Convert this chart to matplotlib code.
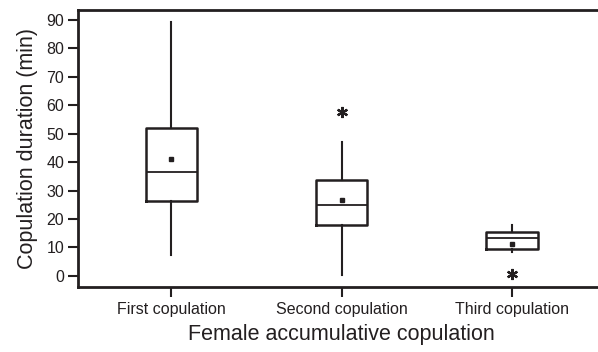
import matplotlib
matplotlib.use("Agg")
import matplotlib.pyplot as plt

plt.rcParams['font.family'] = ['Liberation Sans', 'DejaVu Sans']

categories = ["First copulation", "Second copulation", "Third copulation"]
q1 = [26.3, 17.9, 9.4]
median = [36.6, 25.0, 13.4]
q3 = [51.9, 33.8, 15.4]
mean = [41.0, 26.6, 11.2]
whislo = [7.4, 0.3, 8.3]
whishi = [89.2, 47.2, 17.8]
outliers = [[], [57.6], [0.8]]
yticks = [0, 10, 20, 30, 40, 50, 60, 70, 80, 90]

ink = "#231f20"

stats = []
for i, c in enumerate(categories):
    stats.append(dict(label=c, q1=q1[i], med=median[i], q3=q3[i], mean=mean[i],
                      whislo=whislo[i], whishi=whishi[i], fliers=outliers[i]))

fig = plt.figure(figsize=(5.98, 3.52), dpi=100)
ax = fig.add_axes([78/598, 1-287/352, 1-78/598+0.01, (287-10)/352])

ax.bxp(stats, positions=[1, 2, 3], widths=0.30, showmeans=True, showcaps=False,
       boxprops=dict(color=ink, linewidth=1.8),
       medianprops=dict(color=ink, linewidth=1.3),
       whiskerprops=dict(color=ink, linewidth=1.5),
       meanprops=dict(marker='s', markersize=3.5, markerfacecolor=ink, markeredgecolor=ink),
       flierprops=dict(marker=(6, 2, 0), markersize=8, markeredgewidth=1.6,
                       markeredgecolor=ink, markerfacecolor=ink, linestyle='none'))

ax.set_xlim(0.453, 3.54)
ax.set_ylim(-3.9, 93.5)
ax.set_yticks(yticks)
ax.set_xticks([1, 2, 3])
ax.set_xticklabels(categories, fontsize=11.5)
ax.tick_params(axis='y', labelsize=11.5, length=7, width=1.5, color=ink, labelcolor=ink, pad=3)
ax.tick_params(axis='x', length=7, width=1.5, color=ink, labelcolor=ink, pad=4)
for s in ['left', 'top', 'bottom']:
    ax.spines[s].set_linewidth(2.0)
    ax.spines[s].set_color(ink)
ax.spines['right'].set_visible(False)

ax.set_ylabel("Copulation duration (min)", fontsize=15.5, color=ink, labelpad=6)
ax.set_xlabel("Female accumulative copulation", fontsize=15.5, color=ink, labelpad=5)

fig.savefig("out.png", dpi=100)
